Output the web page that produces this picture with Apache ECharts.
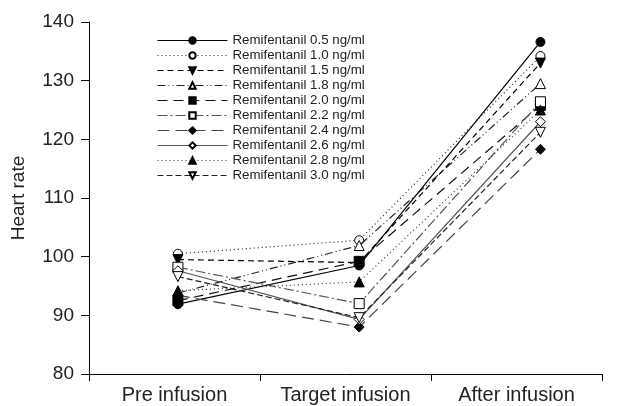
<!DOCTYPE html>
<html>
<head>
<meta charset="utf-8">
<script src="https://cdn.jsdelivr.net/npm/echarts@6/dist/echarts.min.js"></script>
<style>
  html, body { margin: 0; padding: 0; background: #fff; }
  #chart { width: 630px; height: 406px; }
</style>
</head>
<body>
<div id="chart"></div>
<script>
// time points (labels) and where the points sit along the time axis
const phases = ['Pre infusion', 'Target infusion', 'After infusion']
const phaseAt = [0.52, 1.58, 2.64]

const doses = ['0.5', '1.0', '1.5', '1.8', '2.0', '2.2', '2.4', '2.6', '2.8', '3.0']

// heart rate per dose: pre, target, after
const hr05 = [91.9, 98.5, 136.6]
const hr10 = [100.5, 102.8, 134.2]
const hr15 = [99.5, 99.0, 133.0]
const hr18 = [93.8, 101.9, 129.5]
const hr20 = [92.5, 99.2, 125.8]
const hr22 = [98.2, 92.0, 126.4]
const hr24 = [93.4, 88.0, 118.3]
const hr26 = [97.6, 89.3, 123.0]
const hr28 = [94.2, 95.7, 125.0]
const hr30 = [96.6, 89.6, 121.2]

const yTicks = [80, 90, 100, 110, 120, 130, 140]

const allHr = [hr05, hr10, hr15, hr18, hr20, hr22, hr24, hr26, hr28, hr30]

// marker + line look for each dose, in legend order
const looks = [
  {symbol: 'circle', rot: 0, fill: '#000', color: '#000', type: 'solid'},
  {symbol: 'circle', rot: 0, fill: '#fff', color: '#222', type: [1, 3]},
  {symbol: 'triangle', rot: 180, fill: '#000', color: '#000', type: [6, 4]},
  {symbol: 'triangle', rot: 0, fill: '#fff', color: '#222', type: [8, 3, 1, 3, 1, 3]},
  {symbol: 'rect', rot: 0, fill: '#000', color: '#111', type: [10, 6]},
  {symbol: 'rect', rot: 0, fill: '#fff', color: '#555', type: [10, 3, 2, 3]},
  {symbol: 'diamond', rot: 0, fill: '#000', color: '#444', type: [12, 6]},
  {symbol: 'diamond', rot: 0, fill: '#fff', color: '#555', type: 'solid'},
  {symbol: 'triangle', rot: 0, fill: '#000', color: '#333', type: [1, 3]},
  {symbol: 'triangle', rot: 180, fill: '#fff', color: '#222', type: [6, 3]}
]

const chart = echarts.init(document.getElementById('chart'))

const series = doses.map((d, i) => ({
  name: 'Remifentanil ' + d + ' ng/ml',
  type: 'line',
  xAxisIndex: 1,
  data: allHr[i].map((v, k) => [phaseAt[k], v]),
  symbol: looks[i].symbol,
  symbolRotate: looks[i].rot,
  symbolSize: looks[i].symbol === 'circle' ? 9 : 10,
  showSymbol: true,
  lineStyle: {color: looks[i].color, width: 1.2, type: looks[i].type},
  itemStyle: {color: looks[i].fill, borderColor: '#000', borderWidth: 1},
  emphasis: {disabled: true},
  animation: false,
  z: 2 + i
}))

const option = {
  animation: false,
  grid: {left: 89, right: 28, top: 22, bottom: 32},
  legend: {
    orient: 'vertical',
    left: 152,
    top: 29,
    itemWidth: 70,
    itemHeight: 8,
    itemGap: 2,
    lineStyle: {width: 1},
    textStyle: {fontFamily: 'Liberation Sans', fontSize: 13.3, lineHeight: 13, color: '#222'},
    data: series.map(s => s.name),
    selectedMode: false
  },
  xAxis: [
    {
      type: 'category',
      data: phases,
      boundaryGap: true,
      axisLine: {lineStyle: {color: '#000', width: 1}},
      axisTick: {show: true, length: 7, lineStyle: {color: '#000'}},
      axisLabel: {fontFamily: 'Liberation Sans', fontSize: 20, color: '#222', margin: 11}
    },
    {type: 'value', min: 0, max: 3, show: false}
  ],
  yAxis: {
    type: 'value',
    min: 80,
    max: 140,
    interval: 10,
    name: 'Heart rate',
    nameLocation: 'middle',
    nameGap: 61,
    nameTextStyle: {fontFamily: 'Liberation Sans', fontSize: 19, color: '#222'},
    axisLine: {show: true, lineStyle: {color: '#000', width: 1}},
    axisTick: {show: true, length: 8, lineStyle: {color: '#000'}},
    axisLabel: {
      fontFamily: 'Liberation Sans', fontSize: 19, color: '#222', margin: 15,
      formatter: v => yTicks.includes(v) ? String(v) : ''
    },
    splitLine: {show: false}
  },
  series: series
}

chart.setOption(option)
</script>
</body>
</html>
